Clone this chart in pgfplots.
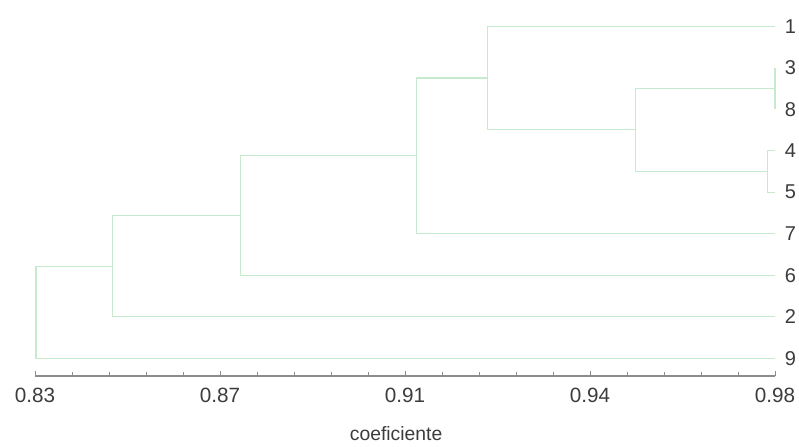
\documentclass[border=0pt]{standalone}
\usepackage{fontspec}
\setmainfont{Liberation Sans}
\usepackage{pgfplots}
\pgfplotsset{compat=1.18}
\definecolor{dendro}{RGB}{198,234,206}
\definecolor{axgray}{RGB}{140,140,140}
\definecolor{txt}{RGB}{60,60,60}
\begin{document}
\begin{tikzpicture}
\begin{axis}[
  scale only axis, width=555pt, height=282pt,
  xmin=0.83, xmax=0.98, ymin=0.57, ymax=9.63,
  axis x line=bottom, axis y line=none,
  xtick={0.83,0.8675,0.905,0.9425,0.98},
  xticklabels={0.83,0.87,0.91,0.94,0.98},
  minor x tick num=4,
  tick align=inside,
  major tick length=4pt, minor tick length=3pt,
  x axis line style={-, draw=axgray, line width=0.9pt},
  every tick/.style={draw=axgray, line width=0.6pt},
  xticklabel style={font=\fontsize{15.5}{15.5}\selectfont, text=txt, yshift=-5.5pt},
  xlabel={coeficiente},
  xlabel style={font=\fontsize{14.5}{15}\selectfont, text=txt, at={(axis description cs:0.488,0)}, anchor=base, yshift=-48pt},
  clip=false,
  /pgf/number format/assume math mode=true,
]
% A = (3,8)
\addplot[dendro, line width=0.8pt] coordinates {(0.98,8) (0.98,7)};
% B = (4,5)
\addplot[dendro, line width=0.8pt] coordinates {(0.98,6) (0.9785,6) (0.9785,5) (0.98,5)};
% C = (A,B)
\addplot[dendro, line width=0.8pt] coordinates {(0.98,7.5) (0.9518,7.5) (0.9518,5.5) (0.9785,5.5)};
% D = (1,C)
\addplot[dendro, line width=0.8pt] coordinates {(0.98,9) (0.9218,9) (0.9218,6.5) (0.9518,6.5)};
% E = (D,7)
\addplot[dendro, line width=0.8pt] coordinates {(0.9218,7.75) (0.9074,7.75) (0.9074,4) (0.98,4)};
% F = (E,6)
\addplot[dendro, line width=0.8pt] coordinates {(0.9074,5.875) (0.8716,5.875) (0.8716,3) (0.98,3)};
% G = (F,2)
\addplot[dendro, line width=0.8pt] coordinates {(0.8716,4.4375) (0.8458,4.4375) (0.8458,2) (0.98,2)};
% H = (G,9)
\addplot[dendro, line width=0.8pt] coordinates {(0.8458,3.21875) (0.8302,3.21875) (0.8302,1) (0.98,1)};
% leaf labels
\foreach \lab/\yy in {1/9,3/8,8/7,4/6,5/5,7/4,6/3,2/2,9/1}{
  \edef\tmp{\noexpand\node[font=\noexpand\fontsize{15}{15}\noexpand\selectfont, text=txt, anchor=center, xshift=11.5pt] at (axis cs:0.98,\yy) {\lab};}
  \tmp
}
\end{axis}
\pgfresetboundingbox
\path[use as bounding box] (-26.25pt,-52.5pt) rectangle (573pt,282pt);
\end{tikzpicture}
\end{document}
